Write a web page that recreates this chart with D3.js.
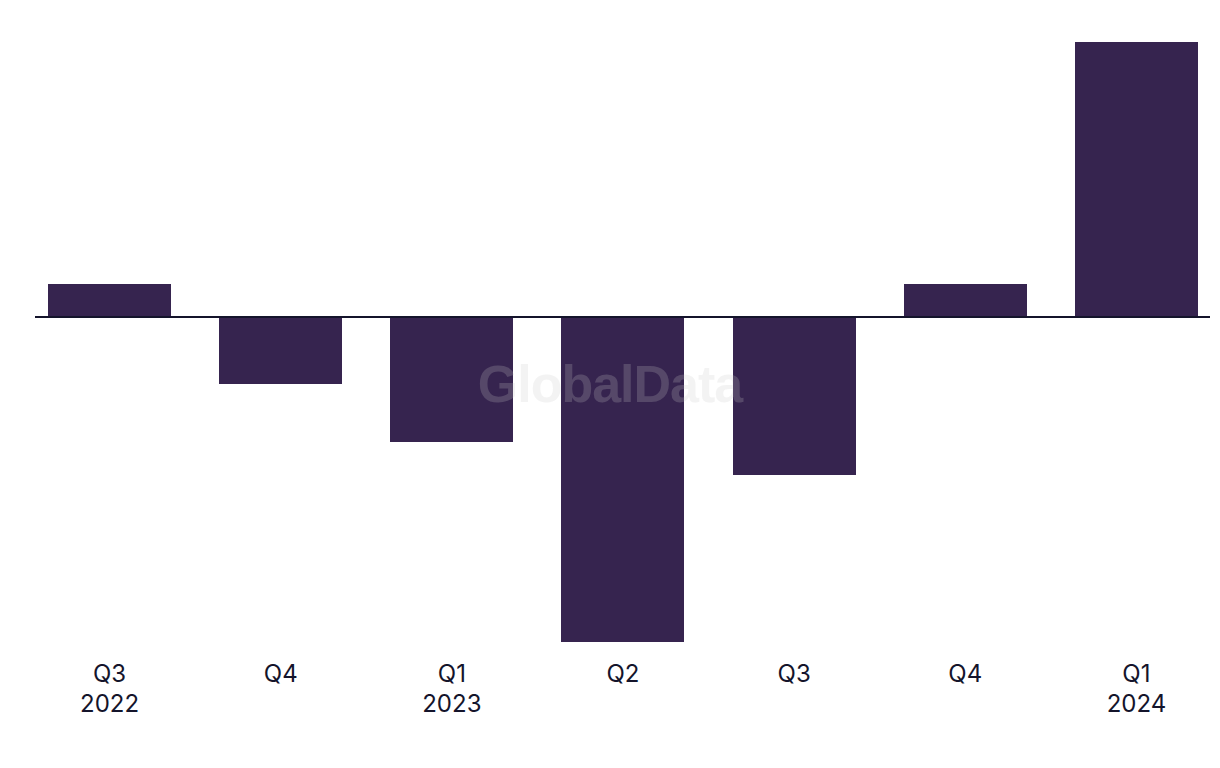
<!DOCTYPE html>
<html>
<head>
<meta charset="utf-8">
<script src="https://cdn.jsdelivr.net/npm/d3@7"></script>
<style>
  html, body { margin: 0; padding: 0; background: #ffffff; }
  svg { display: block; }
</style>
</head>
<body>
<svg id="chart" width="1220" height="768"></svg>
<script>
const quarters = ["Q3", "Q4", "Q1", "Q2", "Q3", "Q4", "Q1"];
const years = ["2022", "", "2023", "", "", "", "2024"];
const values = [3.2, -6.8, -12.6, -32.6, -15.9, 3.2, 27.4];
const keys = quarters.map((q, i) => i);

const svg = d3.select("#chart");

const x = d3.scaleBand()
  .domain(keys)
  .range([24, 1222])
  .paddingInner(0.28)
  .paddingOuter(0.14);

const y = d3.scaleLinear()
  .domain([-32.6, 27.4])
  .range([642, 42]);

// bars
svg.append("g")
  .selectAll("rect")
  .data(values)
  .join("rect")
  .attr("x", (d, i) => Math.round(x(i)))
  .attr("width", Math.round(x.bandwidth()))
  .attr("y", d => y(Math.max(0, d)))
  .attr("height", d => Math.abs(y(d) - y(0)))
  .attr("fill", "#36244f");

// zero line
svg.append("line")
  .attr("x1", 35).attr("x2", 1210)
  .attr("y1", y(0) + 1).attr("y2", y(0) + 1)
  .attr("stroke", "#14142b")
  .attr("stroke-width", 2);

// watermark
svg.append("text")
  .attr("x", 610).attr("y", 402)
  .attr("text-anchor", "middle")
  .attr("font-family", "'Liberation Sans', Arial, sans-serif")
  .attr("font-weight", "bold")
  .attr("font-size", 52)
  .attr("letter-spacing", -1)
  .attr("fill", "rgb(199,199,199)")
  .attr("fill-opacity", 0.22)
  .text("GlobalData");

// category labels
const lab = svg.append("g")
  .attr("font-family", "Inter, 'Liberation Sans', sans-serif")
  .attr("font-size", 24)
  .attr("fill", "#14142b")
  .attr("text-anchor", "middle");

lab.selectAll("text.q")
  .data(quarters)
  .join("text")
  .attr("class", "q")
  .attr("x", (d, i) => x(i) + x.bandwidth() / 2)
  .attr("y", 682)
  .text(d => d);

lab.selectAll("text.yr")
  .data(years)
  .join("text")
  .attr("class", "yr")
  .attr("x", (d, i) => x(i) + x.bandwidth() / 2)
  .attr("y", 712)
  .text(d => d);
</script>
</body>
</html>
